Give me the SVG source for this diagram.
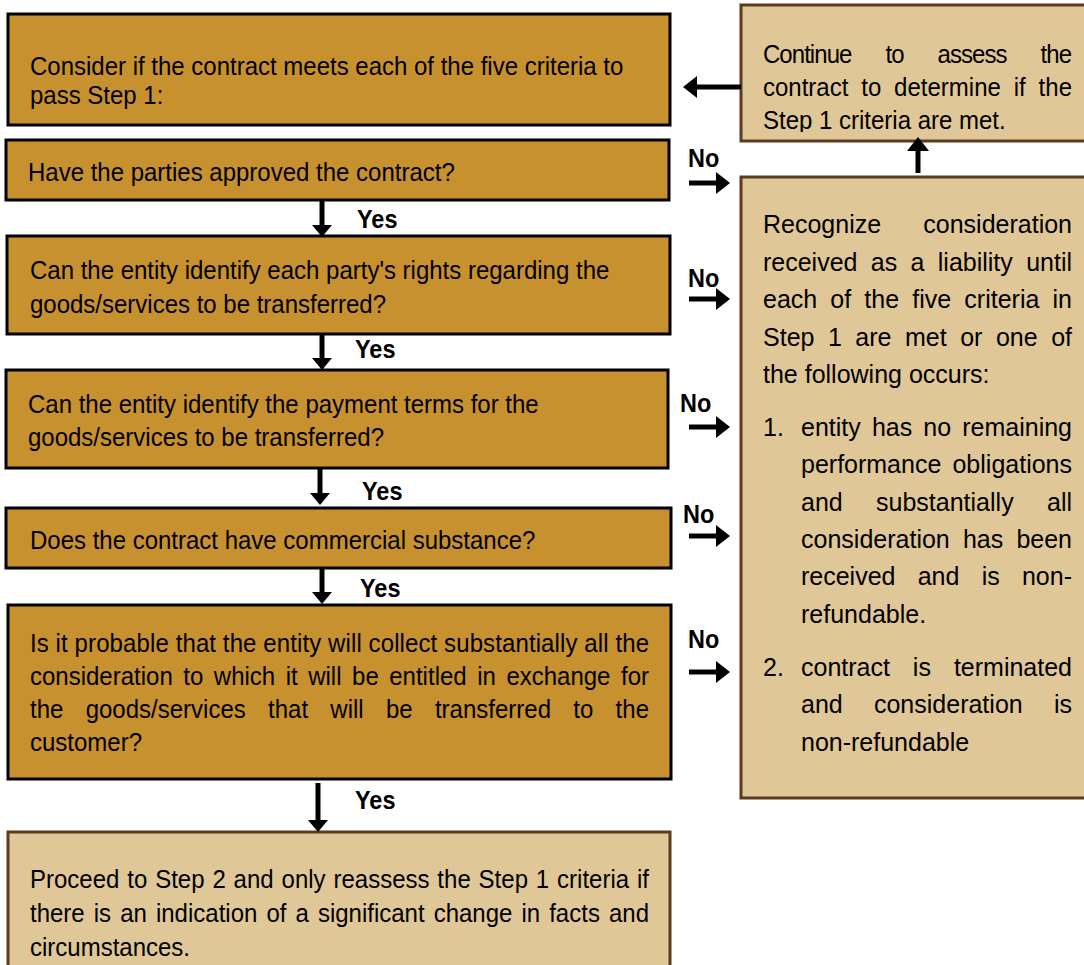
<svg xmlns="http://www.w3.org/2000/svg" width="1084" height="965" viewBox="0 0 1084 965">
<style>
.dark{fill:#C8912F;stroke:#000;stroke-width:3}
.light{fill:#E0C797;stroke:#5C3B1E;stroke-width:3}
.t{font-family:"Liberation Sans",Arial,sans-serif;font-size:24px;fill:#000}
.r{font-family:"Liberation Sans",Arial,sans-serif;font-size:25px;fill:#000}
.lbl{font-family:"Liberation Sans",Arial,sans-serif;font-size:23.5px;font-weight:bold;fill:#000}
.c{stroke:#000;stroke-width:5;fill:none}
</style>
<defs>
<marker id="ah" markerUnits="userSpaceOnUse" viewBox="0 0 14 22" refX="0" refY="11" markerWidth="14" markerHeight="22" orient="auto"><path d="M0,0 L14,11 L0,22 Z" fill="#000"/></marker>
<marker id="ad" markerUnits="userSpaceOnUse" viewBox="0 0 12 20" refX="0" refY="10" markerWidth="12" markerHeight="20" orient="auto"><path d="M0,0 L12,10 L0,20 Z" fill="#000"/></marker>
<clipPath id="clipTop"><rect x="741" y="5" width="350" height="127"/></clipPath>
</defs>
<rect width="1084" height="965" fill="#fff"/>

<g id="box1">
<rect class="dark" x="8" y="14" width="662" height="111"/>
<text class="t" transform="translate(30,75) scale(1,1.065)">Consider if the contract meets each of the five criteria to</text>
<text class="t" transform="translate(30,104) scale(1,1.065)">pass Step 1:</text>
</g>
<g id="box2">
<rect class="dark" x="6" y="140" width="663" height="60"/>
<text class="t" transform="translate(28,181) scale(1,1.065)">Have the parties approved the contract?</text>
</g>
<g id="box3">
<rect class="dark" x="7" y="236" width="663" height="98"/>
<text class="t" transform="translate(30,279) scale(1,1.065)">Can the entity identify each party's rights regarding the</text>
<text class="t" transform="translate(30,313) scale(1,1.065)">goods/services to be transferred?</text>
</g>
<g id="box4">
<rect class="dark" x="6" y="370" width="662" height="98"/>
<text class="t" transform="translate(28,413) scale(1,1.065)">Can the entity identify the payment terms for the</text>
<text class="t" transform="translate(28,446) scale(1,1.065)">goods/services to be transferred?</text>
</g>
<g id="box5">
<rect class="dark" x="6" y="508" width="665" height="60"/>
<text class="t" transform="translate(30,549) scale(1,1.065)">Does the contract have commercial substance?</text>
</g>
<g id="box6">
<rect class="dark" x="8" y="605" width="663" height="174"/>
<text class="t" transform="translate(30,652) scale(1,1.065)" textLength="619" lengthAdjust="spacing">Is it probable that the entity will collect substantially all the</text>
<text class="t" transform="translate(30,685) scale(1,1.065)" word-spacing="3.86" textLength="619" lengthAdjust="spacing">consideration to which it will be entitled in exchange for</text>
<text class="t" transform="translate(30,718) scale(1,1.065)" word-spacing="15.6" textLength="619" lengthAdjust="spacing">the goods/services that will be transferred to the</text>
<text class="t" transform="translate(30,751) scale(1,1.065)">customer?</text>
</g>
<g id="box7">
<rect class="light" x="8" y="832" width="662" height="140"/>
<text class="t" transform="translate(30,888) scale(1,1.065)" word-spacing="1.2" textLength="619" lengthAdjust="spacing">Proceed to Step 2 and only reassess the Step 1 criteria if</text>
<text class="t" transform="translate(30,922) scale(1,1.065)" word-spacing="2.4" textLength="619" lengthAdjust="spacing">there is an indication of a significant change in facts and</text>
<text class="t" transform="translate(30,956) scale(1,1.065)">circumstances.</text>
</g>
<g id="continue">
<rect class="light" x="741" y="5" width="350" height="136"/>
<text class="t" transform="translate(763,63) scale(1,1.065)" word-spacing="28.3" textLength="309" lengthAdjust="spacing">Continue to assess the</text>
<text class="t" transform="translate(763,96) scale(1,1.065)" word-spacing="6.2" textLength="309" lengthAdjust="spacing">contract to determine if the</text>
<g clip-path="url(#clipTop)"><text class="t" transform="translate(763,129) scale(1,1.065)">Step 1 criteria are met.</text></g>
</g>
<g id="recognize">
<rect class="light" x="741" y="177" width="350" height="621"/>
<text class="r" x="763" y="233" word-spacing="35.2" textLength="309" lengthAdjust="spacing">Recognize consideration</text>
<text class="r" x="763" y="271" word-spacing="6.4" textLength="309" lengthAdjust="spacing">received as a liability until</text>
<text class="r" x="763" y="308" word-spacing="6.2" textLength="309" lengthAdjust="spacing">each of the five criteria in</text>
<text class="r" x="763" y="346" word-spacing="6.5" textLength="309" lengthAdjust="spacing">Step 1 are met or one of</text>
<text class="r" x="763" y="383">the following occurs:</text>
<text class="r" x="763" y="436">1.</text>
<text class="r" x="801" y="436" word-spacing="4.2" textLength="271" lengthAdjust="spacing">entity has no remaining</text>
<text class="r" x="801" y="473" word-spacing="4.2" textLength="271" lengthAdjust="spacing">performance obligations</text>
<text class="r" x="801" y="511" word-spacing="26.4" textLength="271" lengthAdjust="spacing">and substantially all</text>
<text class="r" x="801" y="548" word-spacing="6.2" textLength="271" lengthAdjust="spacing">consideration has been</text>
<text class="r" x="801" y="585" word-spacing="15.3" textLength="271" lengthAdjust="spacing">received and is non-</text>
<text class="r" x="801" y="623">refundable.</text>
<text class="r" x="763" y="676">2.</text>
<text class="r" x="801" y="676" word-spacing="16" textLength="271" lengthAdjust="spacing">contract is terminated</text>
<text class="r" x="801" y="713" word-spacing="24.3" textLength="271" lengthAdjust="spacing">and consideration is</text>
<text class="r" x="801" y="751">non-refundable</text>
</g>

<g id="connectors">
<line class="c" x1="322" y1="200" x2="322" y2="225" marker-end="url(#ad)"/>
<line class="c" x1="322" y1="334" x2="322" y2="358" marker-end="url(#ad)"/>
<line class="c" x1="320" y1="468" x2="320" y2="493" marker-end="url(#ad)"/>
<line class="c" x1="322" y1="568" x2="322" y2="592" marker-end="url(#ad)"/>
<line class="c" x1="318" y1="783" x2="318" y2="820" marker-end="url(#ad)"/>
<line class="c" x1="689" y1="183" x2="716" y2="183" marker-end="url(#ah)"/>
<line class="c" x1="689" y1="299" x2="716" y2="299" marker-end="url(#ah)"/>
<line class="c" x1="689" y1="427" x2="716" y2="427" marker-end="url(#ah)"/>
<line class="c" x1="689" y1="536" x2="716" y2="536" marker-end="url(#ah)"/>
<line class="c" x1="689" y1="672" x2="716" y2="672" marker-end="url(#ah)"/>
<line class="c" x1="741" y1="87" x2="697" y2="87" marker-end="url(#ah)"/>
<line class="c" x1="918" y1="173" x2="918" y2="151" marker-end="url(#ah)"/>
<text class="lbl" transform="translate(357,228) scale(1,1.065)">Yes</text>
<text class="lbl" transform="translate(355,358) scale(1,1.065)">Yes</text>
<text class="lbl" transform="translate(362,500) scale(1,1.065)">Yes</text>
<text class="lbl" transform="translate(360,597) scale(1,1.065)">Yes</text>
<text class="lbl" transform="translate(355,809) scale(1,1.065)">Yes</text>
<text class="lbl" transform="translate(688,167) scale(1,1.065)">No</text>
<text class="lbl" transform="translate(688,287) scale(1,1.065)">No</text>
<text class="lbl" transform="translate(680,412) scale(1,1.065)">No</text>
<text class="lbl" transform="translate(683,523) scale(1,1.065)">No</text>
<text class="lbl" transform="translate(688,648) scale(1,1.065)">No</text>
</g>
</svg>
